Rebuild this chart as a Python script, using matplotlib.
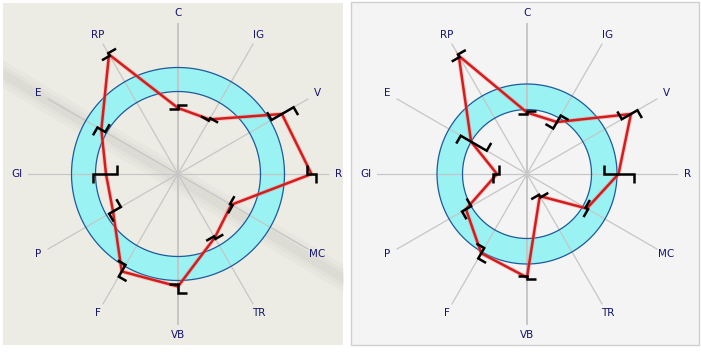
import numpy as np
import matplotlib
matplotlib.use("Agg")
import matplotlib.pyplot as plt
from matplotlib.patches import Rectangle, Wedge

# axes (clockwise from top)
labels = ["C", "IG", "V", "R", "MC", "TR", "VB", "F", "P", "GI", "E", "RP"]

# left chart
left_val = [4.4, 4.2, 8.0, 8.9, 4.1, 4.9, 7.5, 7.5, 5.0, 4.8, 5.9, 9.2]
left_lo = [4.3, 4.1, 7.2, 8.6, 4.0, 4.8, 7.3, 7.0, 4.4, 4.1, 5.6, 9.1]
left_hi = [4.6, 4.3, 8.9, 9.2, 4.2, 5.0, 7.9, 7.9, 5.3, 5.7, 6.2, 9.3]
left_band = (5.5, 7.1)

# right chart
right_val = [4.1, 4.0, 8.0, 6.1, 4.6, 1.7, 6.9, 6.1, 4.7, 2.0, 4.3, 9.1]
right_lo = [4.0, 3.5, 7.3, 5.1, 4.5, 1.6, 6.8, 5.7, 4.3, 1.9, 3.1, 9.0]
right_hi = [4.2, 4.5, 8.5, 7.1, 4.7, 1.8, 7.0, 6.5, 5.0, 2.3, 5.1, 9.2]
right_band = (4.3, 6.0)

rmax = 10.0
PX = 15.0  # pixels per unit
W, H = 701, 352

fig = plt.figure(figsize=(W / 100, H / 100), dpi=100)
fig.patch.set_facecolor("white")


def radar(ax, vals, lo, hi, band):
    n = len(labels)
    ang = np.deg2rad(90 - 360.0 / n * np.arange(n))
    ux, uy = np.cos(ang), np.sin(ang)

    # normal band
    ax.add_patch(Wedge((0, 0), band[1] * PX, 0, 360, width=(band[1] - band[0]) * PX,
                       facecolor="#9af2f2", edgecolor="none", zorder=1))
    t = np.linspace(0, 2 * np.pi, 300)
    for rr in band:
        ax.plot(rr * PX * np.cos(t), rr * PX * np.sin(t), color="#1d5a9a", lw=0.9, zorder=3)

    # spokes + labels
    for i in range(n):
        ax.plot([0, ux[i] * rmax * PX], [0, uy[i] * rmax * PX], color="#c6c6c6",
                lw=1.4 if i in (0, 6) else 0.9, zorder=2)
        ax.text(ux[i] * 161, uy[i] * 161, labels[i], ha="center", va="center",
                fontsize=7.5, color="#14146e", zorder=5)

    # data line
    v = np.array(vals + vals[:1]) * PX
    u1, u2 = np.append(ux, ux[0]), np.append(uy, uy[0])
    ax.plot(v * u1, v * u2, color="#f08080", lw=3.2, alpha=0.35, zorder=6,
            solid_joinstyle="miter")
    ax.plot(v * u1, v * u2, color="#d41c1c", lw=1.8, zorder=7, solid_joinstyle="miter")

    # range brackets
    tk = 9.0
    for i in range(n):
        px, py = -uy[i], ux[i]
        if px - py < 0:  # outer tick towards the lower right
            px, py = -px, -py
        a, b = lo[i] * PX, hi[i] * PX
        xs = [ux[i] * a - px * tk, ux[i] * a, ux[i] * b, ux[i] * b + px * tk]
        ys = [uy[i] * a - py * tk, uy[i] * a, uy[i] * b, uy[i] * b + py * tk]
        ax.plot(xs, ys, color="black", lw=1.8, zorder=8, solid_joinstyle="miter",
                solid_capstyle="butt")


# left panel: pixels 0..343, centre (178,174)
axl = fig.add_axes([0, 0, 343 / W, 1])
axl.set_xlim(-178, 165)
axl.set_ylim(-178, 174)
axl.add_patch(Rectangle((-175, -171), 340, 342, facecolor="#edece4", edgecolor="none", zorder=0))
# soft diagonal streak of the background photo
sx = np.array([-175, 165])
for w, a in [(14, 0.12), (9, 0.15), (5, 0.2)]:
    axl.fill_between(sx, -0.6 * (sx + 175) + 100 + w, -0.6 * (sx + 175) + 100 - w,
                     color="#c4c4c0", alpha=a, lw=0, zorder=0.5)
radar(axl, left_val, left_lo, left_hi, left_band)

# right panel: pixels 350..701, centre (527,174)
axr = fig.add_axes([350 / W, 0, 351 / W, 1])
axr.set_xlim(-177, 174)
axr.set_ylim(-178, 174)
axr.add_patch(Rectangle((-176, -171), 348, 343, facecolor="#f4f4f4", edgecolor="#d0d0d0",
                        lw=1, zorder=0))
radar(axr, right_val, right_lo, right_hi, right_band)

for ax in (axl, axr):
    ax.axis("off")

fig.savefig("out.png", dpi=100)
